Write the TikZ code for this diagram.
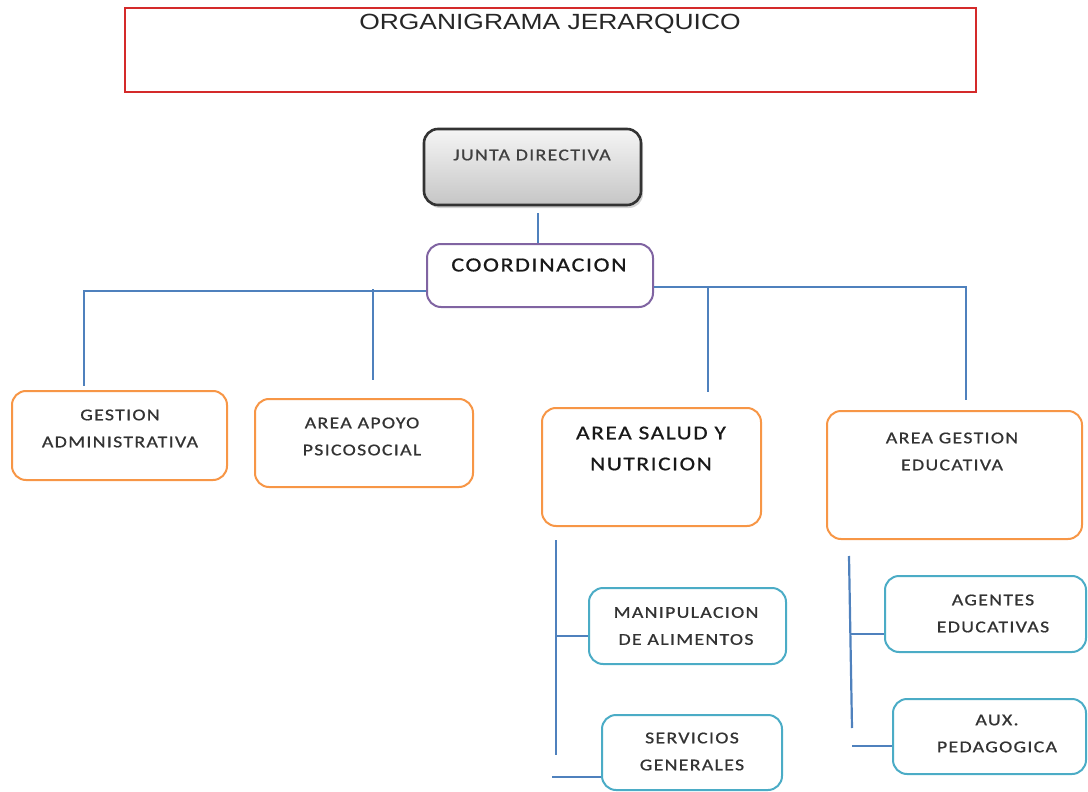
\documentclass[tikz,border=0pt]{standalone}
\usepackage{fontspec}
\usetikzlibrary{shadows}
\newfontfamily\titlefont[FakeStretch=1.2]{Liberation Sans}
\newfontfamily\boxfont[FakeStretch=1.2,LetterSpace=8,FakeBold=0.8]{Carlito}
\definecolor{linkblue}{HTML}{4F81BD}
\definecolor{orng}{HTML}{F79646}
\definecolor{cyn}{HTML}{4BACC6}
\definecolor{purp}{HTML}{8064A2}
\definecolor{redb}{HTML}{D42A2A}
\definecolor{txt}{HTML}{333333}
\tikzset{
  link/.style={draw=linkblue, line width=2.2pt},
  rbox/.style={draw, rounded corners=14pt, line width=2pt, inner sep=0pt, fill=white},
  obox/.style={rbox, draw=orng},
  cbox/.style={rbox, draw=cyn},
  lbl/.style={align=center, text=txt, inner sep=0pt, font=\boxfont\fontsize{16.5}{27}\selectfont},
}
\begin{document}
\begin{tikzpicture}[x=1pt,y=-1pt]
\useasboundingbox (0,0) rectangle (1088,792);
% title
\node[draw=redb, line width=1.6pt, minimum width=851pt, minimum height=84pt, inner sep=0pt] (title) at (550.5,50) {};
\node[inner sep=0pt, font=\titlefont\fontsize{22}{26}\selectfont, text=black!85] (titlet) at (550,24) {ORGANIGRAMA JERARQUICO};
% junta
\node[rbox, draw=black!80, line width=2.6pt, top color=gray!8, bottom color=gray!45, minimum width=217pt, minimum height=76pt,
      drop shadow={shadow xshift=2pt, shadow yshift=-3pt, opacity=0.35}] (junta) at (532.5,167) {};
\node[lbl, text=black!75] (juntat) at (532,155) {JUNTA DIRECTIVA};
% coordinacion
\node[rbox, draw=purp, minimum width=226pt, minimum height=63pt] (coord) at (540,275.5) {};
\node[lbl, text=black!90, font=\boxfont\fontsize{20}{27}\selectfont] (coordt) at (539,265) {COORDINACION};
% second level
\node[obox, minimum width=215pt, minimum height=89pt] (gestion) at (119.5,435.5) {};
\node[lbl] (gestiont) at (120,428.5) {GESTION\\ADMINISTRATIVA};
\node[obox, minimum width=218pt, minimum height=88pt] (apoyo) at (364,443) {};
\node[lbl] (apoyot) at (362,436.5) {AREA APOYO\\PSICOSOCIAL};
\node[obox, minimum width=219pt, minimum height=118pt] (salud) at (651.5,467) {};
\node[lbl, text=black!90, font=\boxfont\fontsize{19.5}{31}\selectfont] (saludt) at (651,448.5) {AREA SALUD Y\\NUTRICION};
\node[obox, minimum width=255pt, minimum height=128pt] (educ) at (954.5,475) {};
\node[lbl] (educt) at (952,451.5) {AREA GESTION\\EDUCATIVA};
% third level
\node[cbox, minimum width=197pt, minimum height=76pt] (manip) at (687.5,626) {};
\node[lbl] (manipt) at (686,626) {MANIPULACION\\DE ALIMENTOS};
\node[cbox, minimum width=180pt, minimum height=75pt] (serv) at (692,752.5) {};
\node[lbl] (servt) at (692,751.5) {SERVICIOS\\GENERALES};
\node[cbox, minimum width=201pt, minimum height=76pt] (agentes) at (985.5,614) {};
\node[lbl] (agentest) at (993,613.5) {AGENTES\\EDUCATIVAS};
\node[cbox, minimum width=193pt, minimum height=75pt] (aux) at (989.5,736.5) {};
\node[lbl] (auxt) at (997,733.5) {AUX.\\PEDAGOGICA};
% connector coordinates
\coordinate (j1) at (538,213);
\coordinate (cL) at (84,291);
\coordinate (gA) at (84,386);
\coordinate (aT) at (373,289);
\coordinate (aB) at (373,380);
\coordinate (cR) at (966,287);
\coordinate (eA) at (966,400);
\coordinate (sT) at (708,287);
\coordinate (sB) at (708,392);
\coordinate (s1) at (556,540);
\coordinate (s2) at (556,755);
\coordinate (s3) at (556,636);
\coordinate (s4) at (552,777);
\coordinate (e1) at (849,556);
\coordinate (e2) at (852,728);
\coordinate (e3) at (850,634);
\coordinate (e4) at (852,746);
% connectors
\draw[link] (j1) -- (j1 |- coord.north);
\draw[link] (coord.west |- cL) -- (cL) -- (gA);
\draw[link] (aT) -- (aB);
\draw[link] (coord.east |- cR) -- (cR) -- (eA);
\draw[link] (sT) -- (sB);
\draw[link] (s1) -- (s2);
\draw[link] (s3) -- (manip.west |- s3);
\draw[link] (s4) -- (serv.west |- s4);
\draw[link] (e1) -- (e2);
\draw[link] (e3) -- (agentes.west |- e3);
\draw[link] (e4) -- (aux.west |- e4);
\end{tikzpicture}
\end{document}
